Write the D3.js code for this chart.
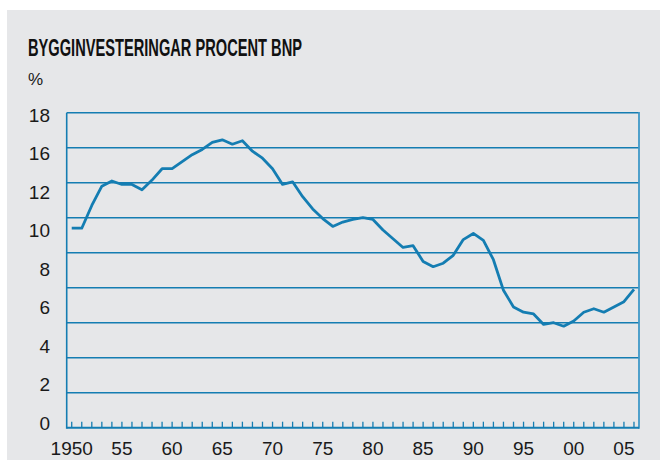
<!DOCTYPE html>
<html>
<head>
<meta charset="utf-8">
<script src="https://cdn.jsdelivr.net/npm/d3@7"></script>
<style>
  body { margin: 0; background: #ffffff; }
  text { font-family: "Liberation Sans Narrow", "Liberation Sans", sans-serif; fill: #1a1a1a; }
</style>
</head>
<body>
<div id="chart"></div>
<script>
// data
const years = d3.range(1950, 2007);
const values = [
  11.4, 11.4, 12.7, 13.8, 14.1, 13.9, 13.9, 13.6, 14.15, 14.8,
  14.8, 15.2, 15.6, 15.9, 16.3, 16.45, 16.2, 16.4, 15.8, 15.4,
  14.8, 13.9, 14.05, 13.2, 12.5, 11.95, 11.5, 11.75, 11.9, 12.0,
  11.9, 11.3, 10.8, 10.3, 10.4, 9.5, 9.2, 9.4, 9.85, 10.75,
  11.1, 10.7, 9.6, 7.85, 6.9, 6.6, 6.5, 5.9, 6.0, 5.8,
  6.1, 6.6, 6.8, 6.6, 6.9, 7.2, 7.9
];
const gridValues = [2, 4, 6, 8, 10, 12, 14, 16, 18];
// the original prints these labels, 14 is missing
const yLabels = ["18", "16", "12", "10", "8", "6", "4", "2", "0"];
const xLabelYears = [1950, 1955, 1960, 1965, 1970, 1975, 1980, 1985, 1990, 1995, 2000, 2005];
const xLabels = ["1950", "55", "60", "65", "70", "75", "80", "85", "90", "95", "00", "05"];

const width = 660;
const height = 468;
const blue = "#147db2";

const svg = d3.select("#chart")
  .append("svg")
  .attr("width", width)
  .attr("height", height);

// grey panel
svg.append("rect")
  .attr("x", 7)
  .attr("y", 10)
  .attr("width", width - 7)
  .attr("height", 450)
  .attr("fill", "#e6e7e9");

svg.append("text")
  .attr("x", 28)
  .attr("y", 56)
  .attr("textLength", 274)
  .attr("lengthAdjust", "spacingAndGlyphs")
  .style("font-size", "24px")
  .style("font-weight", "bold")
  .style("fill", "#111")
  .text("BYGGINVESTERINGAR PROCENT BNP");

svg.append("text")
  .attr("x", 28)
  .attr("y", 85)
  .style("font-size", "17px")
  .text("%");

const x = d3.scaleLinear()
  .domain([1949.5, 2006.5])
  .range([66.7, 639]);

const y = d3.scaleLinear()
  .domain([0, 18])
  .range([427.7, 112.7]);

// label positions do not follow the grid in the original
const yLab = d3.scalePoint()
  .domain(yLabels)
  .range([115, 423]);

// horizontal grid lines
svg.selectAll("line.grid")
  .data(gridValues)
  .enter()
  .append("line")
  .attr("class", "grid")
  .attr("x1", x.range()[0])
  .attr("x2", x.range()[1])
  .attr("y1", d => y(d))
  .attr("y2", d => y(d))
  .attr("stroke", blue)
  .attr("stroke-width", 1.4);

// left and right frame
svg.append("line")
  .attr("x1", x.range()[0]).attr("x2", x.range()[0])
  .attr("y1", y(18)).attr("y2", y(0) + 1)
  .attr("stroke", blue)
  .attr("stroke-width", 1.6);

svg.append("line")
  .attr("x1", x.range()[1]).attr("x2", x.range()[1])
  .attr("y1", y(18) - 0.7).attr("y2", y(0) + 1)
  .attr("stroke", "#3f98c8")
  .attr("stroke-width", 1.8);

// bottom axis with a tick every year
svg.append("line")
  .attr("x1", x.range()[0]).attr("x2", x.range()[1])
  .attr("y1", y(0)).attr("y2", y(0))
  .attr("stroke", blue)
  .attr("stroke-width", 2);

svg.selectAll("line.tick")
  .data(years)
  .enter()
  .append("line")
  .attr("class", "tick")
  .attr("x1", d => x(d))
  .attr("x2", d => x(d))
  .attr("y1", y(0))
  .attr("y2", y(0) - 6)
  .attr("stroke", blue)
  .attr("stroke-width", 1.3);

svg.selectAll("text.ylab")
  .data(yLabels)
  .enter()
  .append("text")
  .attr("class", "ylab")
  .attr("x", 50)
  .attr("y", d => yLab(d))
  .attr("dy", "0.36em")
  .attr("text-anchor", "end")
  .style("font-size", "19px")
  .text(d => d);

svg.selectAll("text.xlab")
  .data(xLabelYears)
  .enter()
  .append("text")
  .attr("class", "xlab")
  .attr("x", d => x(d))
  .attr("y", 455)
  .attr("text-anchor", "middle")
  .style("font-size", "19px")
  .text((d, i) => xLabels[i]);

const line = d3.line()
  .x((d, i) => x(years[i]))
  .y(d => y(d));

svg.append("path")
  .datum(values)
  .attr("d", line)
  .attr("fill", "none")
  .attr("stroke", blue)
  .attr("stroke-width", 2.8)
  .attr("stroke-linejoin", "round");
</script>
</body>
</html>
